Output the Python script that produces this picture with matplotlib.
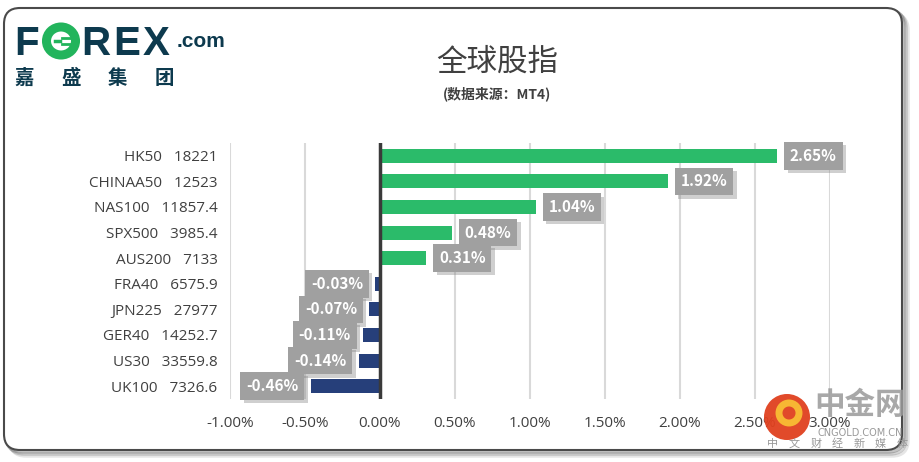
import matplotlib
matplotlib.use('Agg')
import matplotlib.pyplot as plt
import matplotlib.patheffects as pe
from matplotlib.patches import FancyBboxPatch, Ellipse, Circle

plt.rcParams['font.family'] = ['Noto Sans CJK SC', 'DejaVu Sans']

# data
names = ['HK50', 'CHINAA50', 'NAS100', 'SPX500', 'AUS200',
         'FRA40', 'JPN225', 'GER40', 'US30', 'UK100']
prices = ['18221', '12523', '11857.4', '3985.4', '7133',
          '6575.9', '27977', '14252.7', '33559.8', '7326.6']
changes = [2.65, 1.92, 1.04, 0.48, 0.31, -0.03, -0.07, -0.11, -0.14, -0.46]
xticks = [-1.0, -0.5, 0.0, 0.5, 1.0, 1.5, 2.0, 2.5, 3.0]

green = '#2BBB6A'
navy = '#263F7A'
txt = '#404040'
teal = '#0D3A4E'

fig = plt.figure(figsize=(9.2, 4.62), dpi=100)

# decoration layer in pixel coords
deco = fig.add_axes([0, 0, 1, 1], zorder=0)
deco.set_xlim(0, 920)
deco.set_ylim(462, 0)
deco.axis('off')

# frame + shadow
for off, a in [(6, 0.15), (4, 0.25), (2, 0.35)]:
    deco.add_patch(FancyBboxPatch((4 + off, 8 + off), 898, 442,
                                  boxstyle='round,pad=0,rounding_size=16',
                                  fc='none', ec='#555555', lw=2.5, alpha=a))
deco.add_patch(FancyBboxPatch((4, 8), 898, 442,
                              boxstyle='round,pad=0,rounding_size=16',
                              fc='white', ec='#4a4a4a', lw=1.5))

# logo
for ch, x in [('F', 14), ('R', 81), ('E', 113), ('X', 143)]:
    deco.text(x, 55, ch, fontsize=29, fontweight='bold', color=teal,
              family='Liberation Sans', ha='left', va='baseline')
deco.add_patch(Ellipse((61, 41), 29, 28, fc='none', ec='#22B45C', lw=6.5))
deco.plot([55, 60], [41, 41], color='#22B45C', lw=2.5)
deco.plot([62, 71], [38, 38], color='#22B45C', lw=2)
deco.plot([62, 71], [44, 44], color='#22B45C', lw=2)
deco.text(177, 47, '.com', fontsize=15, fontweight='bold', color=teal,
          family='Liberation Sans', ha='left', va='baseline')
for ch, x in [('嘉', 24), ('盛', 71), ('集', 117), ('团', 164)]:
    deco.text(x, 78, ch, fontsize=14, fontweight='bold', color=teal,
              ha='center', va='center')

# title
deco.text(497, 62, '全球股指', fontsize=22, color=txt, ha='center', va='center')
deco.text(497, 94, '(数据来源：MT4)', fontsize=10, fontweight='bold', color=txt,
          ha='center', va='center')

# main chart
ax = fig.add_axes([230 / 920, 1 - 399 / 462, 600 / 920, 256 / 462], zorder=1)
ax.patch.set_alpha(0)
y = list(range(len(names)))
colors = [green if v >= 0 else navy for v in changes]
ax.barh(y, changes, height=0.55, color=colors, zorder=2)
ax.set_xlim(-1.0, 3.0)
ax.set_ylim(len(names) - 0.5, -0.5)
ax.set_xticks(xticks)
ax.set_xticklabels(['%.2f%%' % t for t in xticks])
ax.set_yticks(y)
ax.set_yticklabels(['%s   %s' % (n, p) for n, p in zip(names, prices)])
ax.tick_params(axis='both', length=0, labelsize=11, labelcolor=txt)
ax.tick_params(axis='y', pad=9)
ax.tick_params(axis='x', pad=12)
for lab in ax.get_xticklabels() + ax.get_yticklabels():
    lab.set_family(['Open Sans', 'DejaVu Sans'])
ax.grid(axis='x', color='#D9D9D9', lw=1.5, zorder=0)
ax.axvline(0, color='#3a3a3a', lw=2.5, zorder=3)
for s in ax.spines.values():
    s.set_visible(False)

# value labels with shadow
for i, v in enumerate(changes):
    ha = 'left' if v >= 0 else 'right'
    dx = 9 if v >= 0 else -9
    ann = ax.annotate('%.2f%%' % v, (v, i), xytext=(dx, 0), textcoords='offset points',
                      ha=ha, va='center', fontsize=11, fontweight='bold', color='white',
                      bbox=dict(boxstyle='square,pad=0.38', fc='#A0A0A0', ec='none'),
                      zorder=5)
    ann.get_bbox_patch().set_path_effects([
        pe.SimplePatchShadow(offset=(2.5, -2.5), shadow_rgbFace='#888888', alpha=0.4),
        pe.Normal()])

# watermark
top = fig.add_axes([0, 0, 1, 1], zorder=2)
top.set_xlim(0, 920)
top.set_ylim(462, 0)
top.axis('off')
top.add_patch(Circle((787, 417), 23, fc='#E0401E', ec='none', alpha=0.95))
top.add_patch(Circle((789, 413), 10, fc='none', ec='#F7B733', lw=5))
top.text(860, 405, '中金网', fontsize=22, fontweight='bold', color='#999999',
         alpha=0.85, ha='center', va='center')
top.text(860, 433, 'CNGOLD.COM.CN', fontsize=7, color='#999999',
         ha='center', va='center', family='DejaVu Sans')
for k, ch in enumerate('中文财经新媒体'):
    top.text(773 + k * 21.5, 444, ch, fontsize=8, color='#999999',
             ha='center', va='center')

fig.savefig('out.png', dpi=100)
